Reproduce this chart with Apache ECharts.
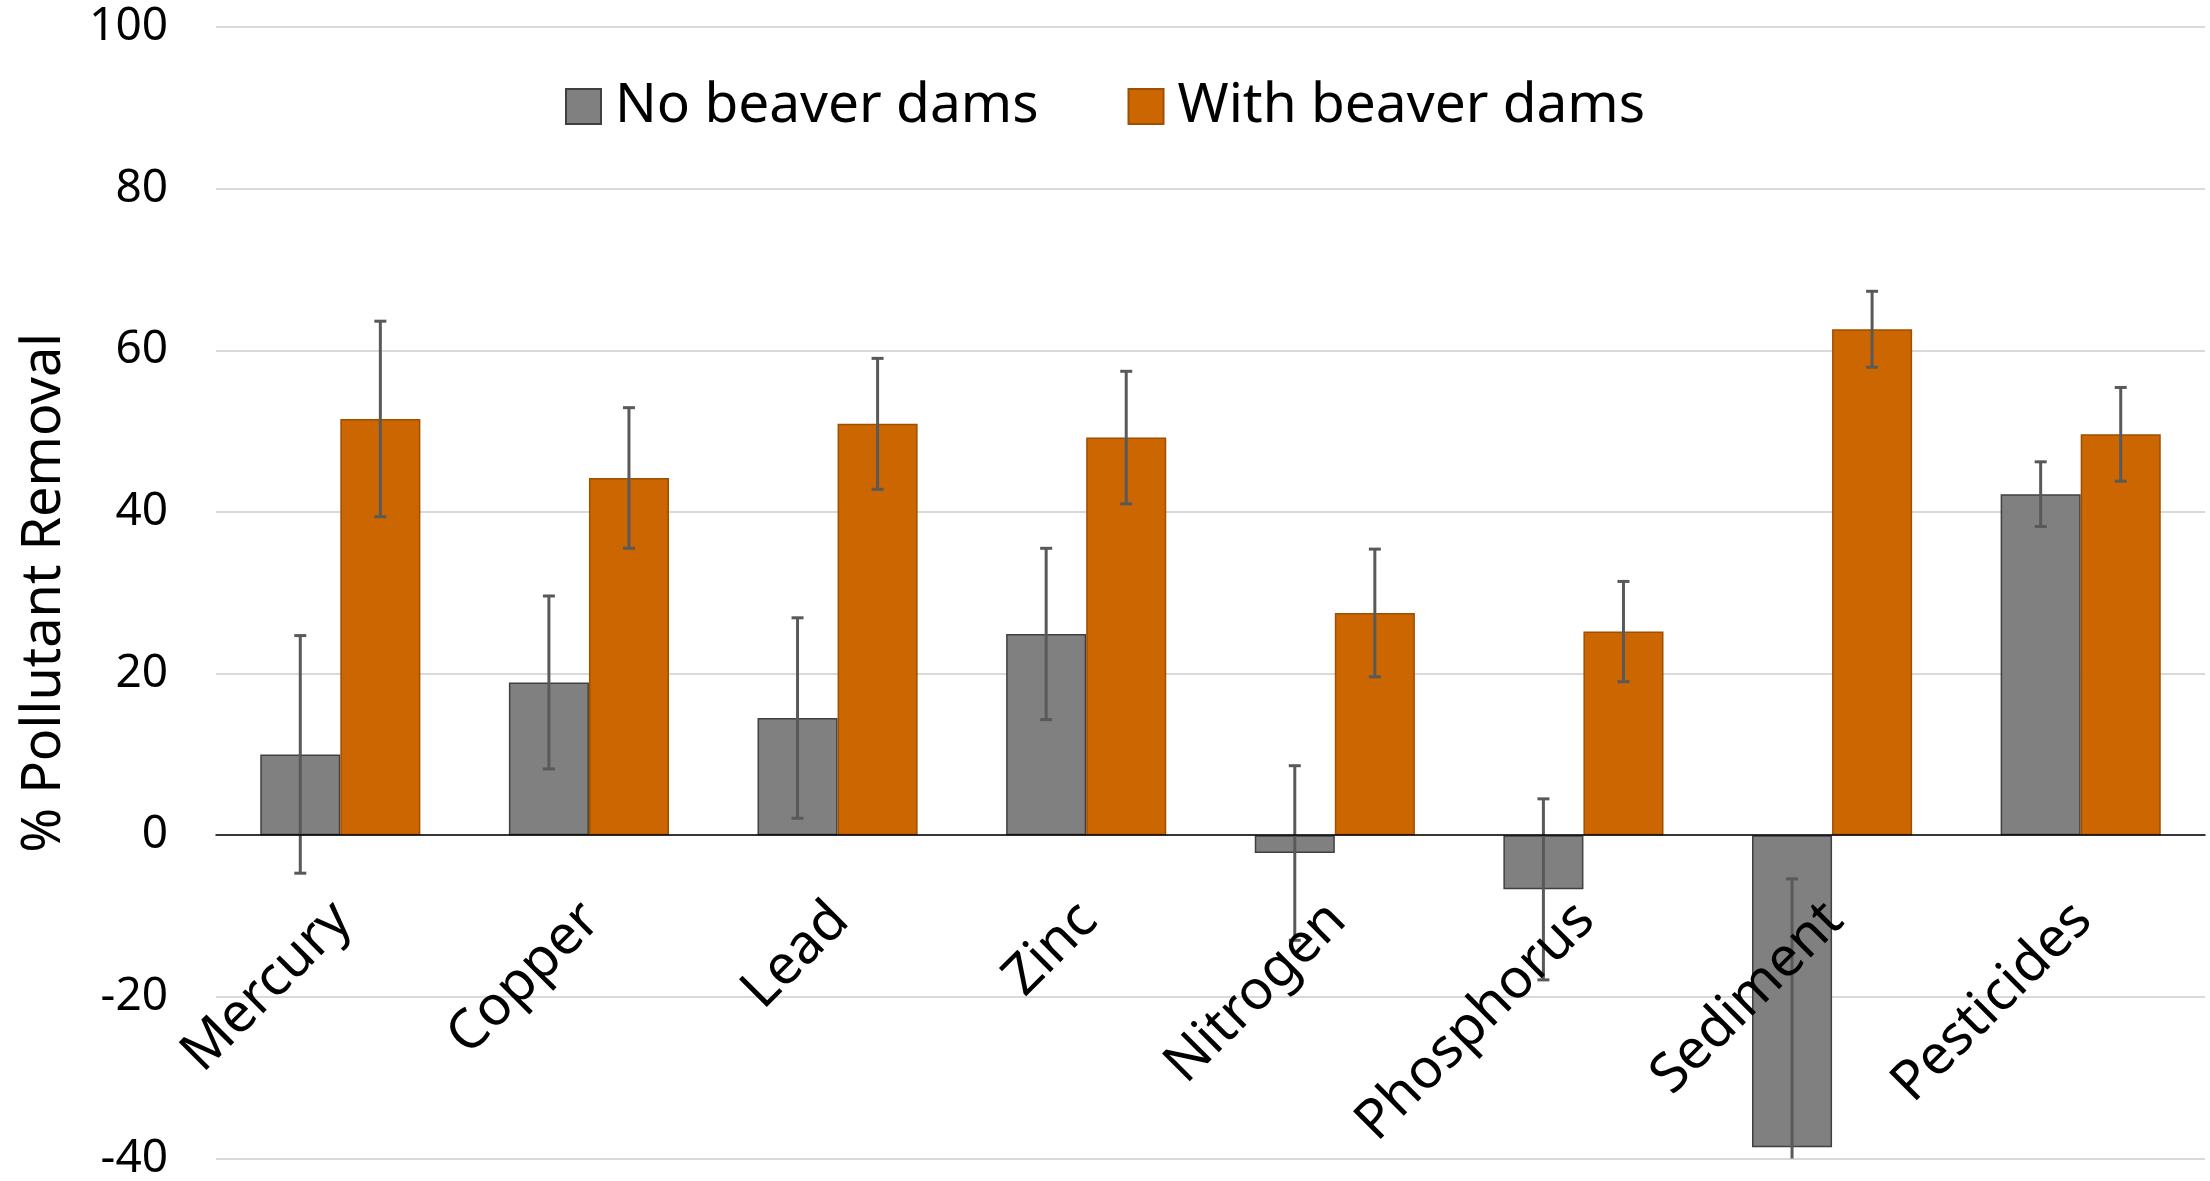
<!DOCTYPE html>
<html>
<head>
<meta charset="utf-8">
<title>Pollutant removal with and without beaver dams</title>
<script src="https://cdn.jsdelivr.net/npm/echarts@6/dist/echarts.min.js"></script>
<style>
  html, body { margin: 0; padding: 0; background: #fff; }
  #chart { width: 2210px; height: 1181px; }
</style>
</head>
<body>
<div id="chart"></div>
<script>
// categories and values
const pollutants = ['Mercury', 'Copper', 'Lead', 'Zinc', 'Nitrogen', 'Phosphorus', 'Sediment', 'Pesticides'];
const noDams = [10.0, 18.9, 14.5, 24.9, -2.2, -6.7, -38.6, 42.2];
const noDamsErr = [14.7, 10.7, 12.4, 10.6, 10.8, 11.2, 33.2, 4.0];
const withDams = [51.5, 44.2, 50.9, 49.2, 27.5, 25.2, 62.6, 49.6];
const withDamsErr = [12.1, 8.7, 8.1, 8.2, 7.9, 6.2, 4.7, 5.8];
const yTicks = { min: -40, max: 100, step: 20 };

const FONT = '"Noto Sans", "Open Sans", sans-serif';
const BAR_FRAC = 0.322; // bar width as part of a category

const W = 2210, H = 1181;
const gridBox = { left: 216, right: 5, top: 27, bottom: 22.5 };
// the category axis sits on the zero line, so lift it from the grid bottom
const plotH = H - gridBox.top - gridBox.bottom;
const zeroLift = (0 - yTicks.min) / (yTicks.max - yTicks.min) * plotH;

// error bars drawn next to the bar they belong to (side -1 = left bar, 1 = right bar)
function errorBars(side) {
  return function (params, api) {
    const i = api.value(0);
    const mean = api.value(1);
    const err = api.value(2);
    const catW = api.size([1, 0])[0];
    const x = api.coord([i, mean])[0] + side * catW * BAR_FRAC / 2;
    const cs = params.coordSys;
    let top = api.coord([i, mean + err])[1];
    let bottom = api.coord([i, mean - err])[1];
    const capTop = top >= cs.y;
    const capBottom = bottom <= cs.y + cs.height;
    top = Math.max(top, cs.y);
    bottom = Math.min(bottom, cs.y + cs.height);
    const style = { stroke: '#595959', lineWidth: 3 };
    const half = 6;
    const children = [
      { type: 'line', shape: { x1: x, y1: top, x2: x, y2: bottom }, style: style }
    ];
    if (capTop) children.push({ type: 'line', shape: { x1: x - half, y1: top, x2: x + half, y2: top }, style: style });
    if (capBottom) children.push({ type: 'line', shape: { x1: x - half, y1: bottom, x2: x + half, y2: bottom }, style: style });
    return { type: 'group', children: children };
  };
}

const chart = echarts.init(document.getElementById('chart'));

const option = {
  backgroundColor: '#ffffff',
  animation: false,
  textStyle: { fontFamily: FONT },
  legend: {
    data: ['No beaver dams', 'With beaver dams'],
    left: 565,
    top: 79,
    padding: 0,
    itemWidth: 35,
    itemHeight: 35,
    itemGap: 89,
    icon: 'rect',
    textStyle: { fontSize: 55, color: '#000', fontFamily: FONT, padding: [0, 0, 0, 9] }
  },
  grid: {
    left: gridBox.left,
    right: gridBox.right,
    top: gridBox.top,
    bottom: gridBox.bottom,
    containLabel: false,
    outerBoundsMode: 'none'
  },
  xAxis: {
    type: 'category',
    data: pollutants,
    offset: -zeroLift,
    z: 10,
    axisLine: { onZero: false, lineStyle: { color: '#000', width: 1.5 } },
    axisTick: { show: false },
    axisLabel: {
      rotate: 45,
      interval: 0,
      margin: 40,
      align: 'right',
      verticalAlign: 'top',
      padding: [0, 24, 0, 0],
      fontSize: 55,
      color: '#000',
      fontFamily: FONT
    }
  },
  yAxis: {
    type: 'value',
    min: yTicks.min,
    max: yTicks.max,
    interval: yTicks.step,
    name: '% Pollutant Removal',
    nameLocation: 'middle',
    nameGap: 144,
    nameTextStyle: { fontSize: 54, color: '#000', fontFamily: FONT },
    axisLine: { show: false },
    axisTick: { show: false },
    axisLabel: { fontSize: 46, color: '#000', margin: 48, fontFamily: FONT },
    splitLine: { lineStyle: { color: '#D9D9D9', width: 2 } }
  },
  series: [
    {
      name: 'No beaver dams',
      type: 'bar',
      data: noDams,
      barWidth: (BAR_FRAC * 100) + '%',
      barGap: '0%',
      itemStyle: { color: '#808080', borderColor: '#404040', borderWidth: 1.5 }
    },
    {
      name: 'With beaver dams',
      type: 'bar',
      data: withDams,
      barWidth: (BAR_FRAC * 100) + '%',
      barGap: '0%',
      itemStyle: { color: '#CC6600', borderColor: '#9E4F00', borderWidth: 1.5 }
    },
    {
      type: 'custom',
      name: 'err-no',
      renderItem: errorBars(-1),
      data: noDams.map((v, i) => [i, v, noDamsErr[i]]),
      encode: { x: 0, y: 1 },
      z: 5
    },
    {
      type: 'custom',
      name: 'err-with',
      renderItem: errorBars(1),
      data: withDams.map((v, i) => [i, v, withDamsErr[i]]),
      encode: { x: 0, y: 1 },
      z: 5
    }
  ]
};

chart.setOption(option);
</script>
</body>
</html>
